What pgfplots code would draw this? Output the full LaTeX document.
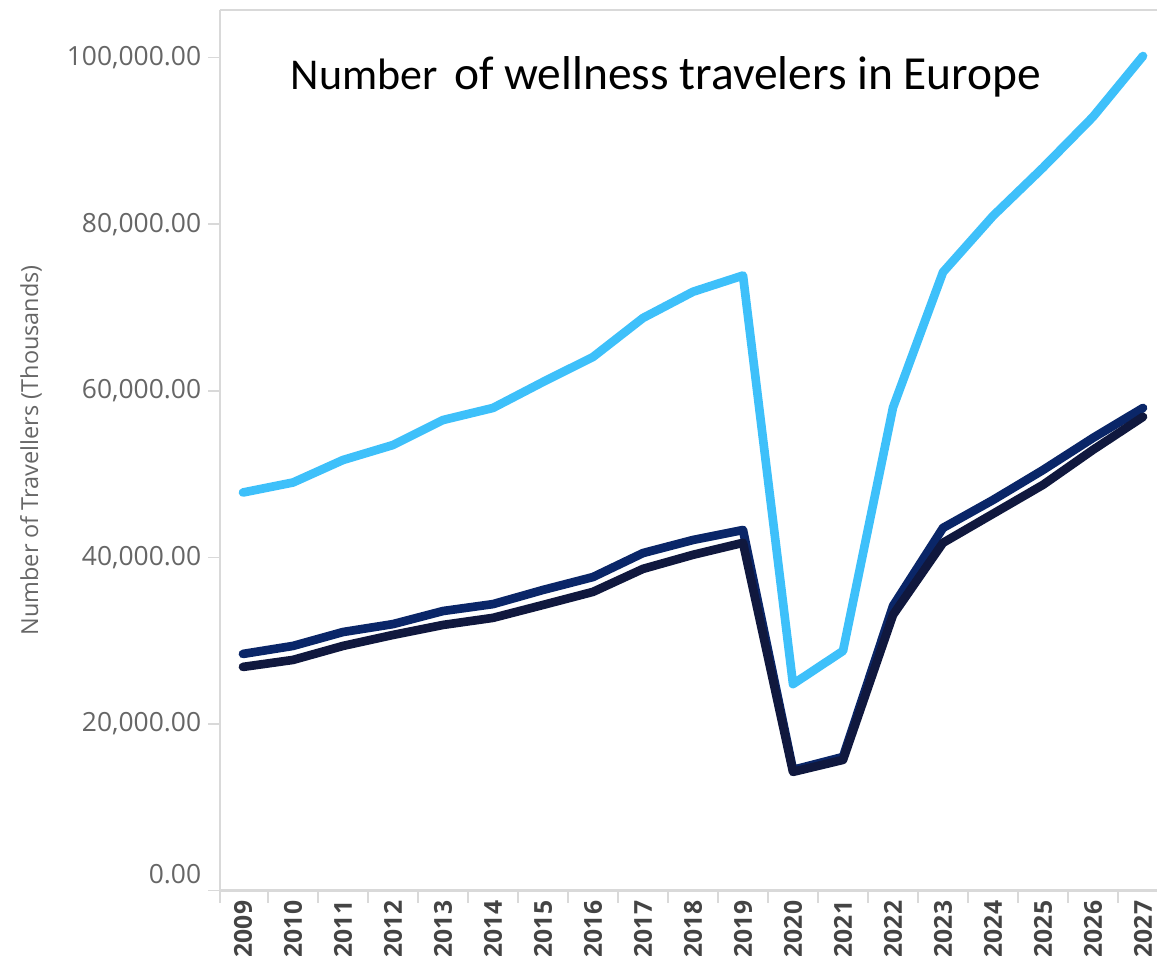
\documentclass[border=0pt]{standalone}
\usepackage{fontspec}
\setmainfont{Open Sans}
\newfontfamily\carlito{Carlito}
\usepackage{pgfplots}
\usepackage{pgfplotstable}
\pgfplotsset{compat=1.18}
\definecolor{lblue}{RGB}{62,192,250}
\definecolor{navy}{RGB}{10,38,104}
\definecolor{dnavy}{RGB}{16,24,62}
\definecolor{axgray}{RGB}{217,217,217}
\definecolor{tickgray}{RGB}{102,102,102}
\definecolor{yeargray}{RGB}{68,68,68}

\pgfplotstableread{
year light upper lower
2009 47800 28420 26860
2010 49000 29380 27700
2011 51700 31050 29380
2012 53500 32000 30700
2013 56500 33570 31900
2014 57950 34400 32750
2015 61070 36100 34300
2016 64070 37650 35870
2017 68750 40530 38630
2018 71900 42100 40320
2019 73850 43300 41760
2020 24800 14500 14260
2021 28780 16050 15700
2022 58000 34180 33100
2023 74250 43550 41760
2024 81000 46900 45240
2025 86800 50500 48720
2026 92900 54350 52920
2027 100200 57950 56880
}\datatable

\begin{document}
\begin{tikzpicture}
\begin{axis}[
  name=ax,
  scale only axis,
  width=702.75pt, height=660.5pt,
  xmin=2008.54, xmax=2027.28,
  ymin=0, ymax=105726,
  clip=false,
  axis lines=left,
  axis line style={-},
  x axis line style={draw=axgray, line width=2pt},
  y axis line style={draw=axgray, line width=1.2pt},
  tick align=outside,
  major tick length=9pt,
  minor tick length=9pt,
  xtick={2009,2010,2011,2012,2013,2014,2015,2016,2017,2018,2019,2020,2021,2022,2023,2024,2025,2026,2027},
  xticklabels={2009,2010,2011,2012,2013,2014,2015,2016,2017,2018,2019,2020,2021,2022,2023,2024,2025,2026,2027},
  major x tick style={draw=none},
  minor xtick={2008.54,2009.5,2010.5,...,2026.5},
  minor x tick style={draw=axgray, line width=1.5pt},
  ytick={20000,40000,60000,80000,100000},
  yticklabels={{20,000.00},{40,000.00},{60,000.00},{80,000.00},{100,000.00}},
  ytick style={draw=axgray, line width=1.2pt},
  extra y ticks={0},
  extra y tick labels={0.00},
  extra y tick style={ytick style={draw=axgray, line width=1.2pt}, yticklabel style={yshift=12.75pt}},
  yticklabel style={text=tickgray, font=\fontsize{19.8}{22}\selectfont, inner sep=0pt},
  yticklabel shift=5pt,
  xticklabel style={text=yeargray, font=\fontsize{18.5}{20}\selectfont\bfseries, rotate=90, anchor=east, inner sep=0pt},
  xticklabel shift=-1.5pt,
  ylabel={Number of Travellers (Thousands)},
  ylabel style={at={(rel axis cs:0,0.5)}, anchor=center, rotate=0, yshift=141.75pt, text=tickgray, font=\fontsize{17.6}{20}\selectfont},
  title={{\fontsize{33}{38}\selectfont Number}\hspace{0.12em} of wellness travelers in Europe},
  title style={at={(rel axis cs:0.476,0.915)}, anchor=center, font=\carlito\fontsize{35.6}{40}\selectfont},
  every axis plot/.append style={line width=6.5pt, line join=round, line cap=round, mark=none},
]
\addplot[lblue] table[x=year, y=light] {\datatable};
\addplot[navy] table[x=year, y=upper] {\datatable};
\addplot[dnavy] table[x=year, y=lower] {\datatable};
\draw[axgray, line width=1.2pt] (rel axis cs:0,1) -- (rel axis cs:1,1);
\end{axis}
\pgfresetboundingbox
\useasboundingbox ([xshift=-165pt,yshift=-49pt]ax.south west) rectangle ([yshift=7.5pt]ax.north east);
\end{tikzpicture}
\end{document}
